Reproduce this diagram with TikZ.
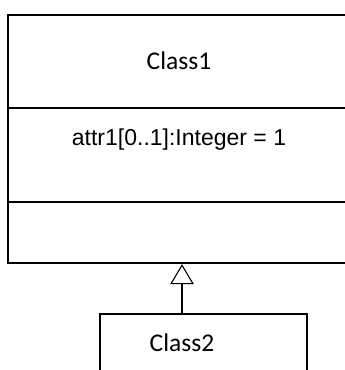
\documentclass[tikz,border=0pt]{standalone}
\usepackage{fontspec}
\usetikzlibrary{arrows.meta}
\newfontfamily\calibrifont{Carlito}
\newfontfamily\arialfont{Liberation Sans}
\tikzset{compartment/.style={black,draw=black,line width=1.7pt,rectangle,minimum width=342pt,inner sep=0pt}}
\tikzset{classbox/.style={black,draw=black,line width=1.1pt,rectangle,minimum width=207pt,minimum height=80pt,inner sep=0pt}}
\tikzset{classname/.style={black,font=\calibrifont\fontsize{25.5}{30}\selectfont}}
\tikzset{attrtext/.style={black,font=\arialfont\fontsize{23}{27}\selectfont}}
\tikzset{generalization/.style={-{Triangle[open,length=20pt,width=23.5pt]},line width=1.1pt}}

\begin{document}
\begin{tikzpicture}[x=1pt,y=1pt]
                \useasboundingbox (0,0) rectangle (345,370);
                \node[compartment,minimum height=92.7pt] (c1head) at (179,308.65) {};
                \node[compartment,minimum height=94pt] (c1attr) at (179,215.3) {};
                \node[compartment,minimum height=61.6pt] (c1ops) at (179,137.5) {};
                \node[classname] (c1name) at (179,309) {Class1};
                \node[attrtext] (attr1) at (179,230.5) {attr1[0..1]:Integer = 1};
                \node[classbox] (c2) at (203.5,16) {};
                \node[classname] (c2name) at (182,27) {Class2};
                \draw[generalization] (c2.north -| c2name) -- (c2name |- c1ops.south);
\end{tikzpicture}
\end{document}
